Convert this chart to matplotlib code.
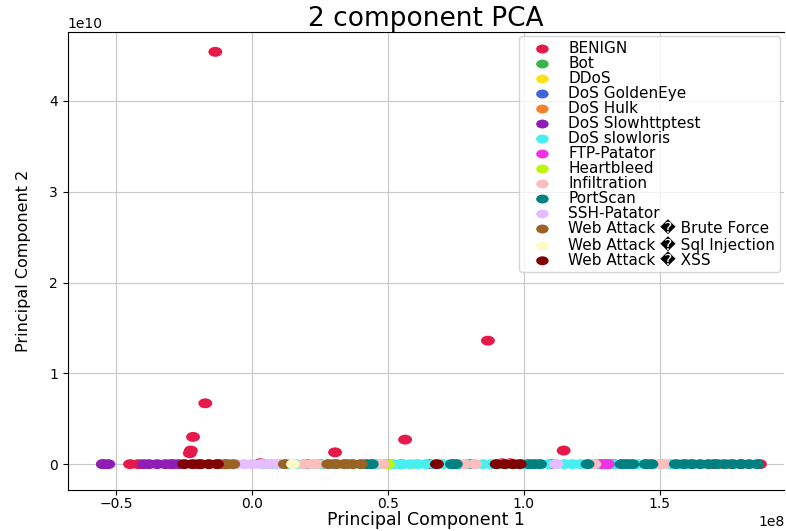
import numpy as np
import matplotlib
matplotlib.use("Agg")
import matplotlib.pyplot as plt
from matplotlib.path import Path
from matplotlib.transforms import Affine2D

# x values in units of 1e8, y values in units of 1e10
labels = ['BENIGN', 'Bot', 'DDoS', 'DoS GoldenEye', 'DoS Hulk',
          'DoS Slowhttptest', 'DoS slowloris', 'FTP-Patator', 'Heartbleed',
          'Infiltration', 'PortScan', 'SSH-Patator',
          'Web Attack \ufffd Brute Force', 'Web Attack \ufffd Sql Injection',
          'Web Attack \ufffd XSS']

colors = ['#e6194b', '#3cb44b', '#ffe119', '#4363d8', '#f58231',
          '#911eb4', '#46f0f0', '#f032e6', '#bcf60c', '#fabebe',
          '#008080', '#e6beff', '#9a6324', '#fffac8', '#800000']

benign_x = [-0.136, 0.868, -0.173, -0.218, -0.226, -0.23, 0.305, 0.563, 1.147,
            -0.55, -0.45, -0.42, -0.30, -0.20, -0.10, 0.03, 0.20, 0.35, 0.50,
            0.65, 0.80, 0.92, 0.95, 1.00, 1.10, 1.28, 1.32, 1.45, 1.60, 1.70,
            1.80, 1.87]
benign_y = [4.54, 1.36, 0.67, 0.30, 0.15, 0.12, 0.13, 0.27, 0.15,
            0, 0, 0, 0, 0, 0, 0.01, 0, 0, 0,
            0, 0, 0.01, 0.01, 0, 0, 0, 0, 0, 0, 0,
            0, 0]
bot_x = [0.20, 0.90]
ddos_x = [0.60, 0.70]
goldeneye_x = [0.25, 0.55, 0.30]
hulk_x = [0.45, 0.75, 1.30, 1.37, 1.62, 1.72, 1.76]
slowhttp_x = [-0.55, -0.53, -0.40, -0.38, -0.35, -0.32, -0.29, -0.27,
              1.27, 1.30, 1.33]
slowloris_x = [0.04, 0.07, 0.10, 0.13, 0.16, 0.19, 0.22, 0.25, 0.28, 0.31,
               0.34, 0.37, 0.40, 0.43, 0.46, 0.49, 0.52, 0.55, 0.58, 0.61,
               0.64, 0.67, 0.70, 0.73, 0.76, 0.79, 0.82, 0.85, 0.88, 0.91,
               0.94, 0.97, 1.00, 1.03, 1.06, 1.09, 1.12, 1.15, 1.18, 1.21,
               1.24, 1.27, 1.30, 1.33, 1.36, 1.39, 1.42, 1.45, 1.48, 1.51,
               1.54, 1.57, 1.60]
ftp_x = [1.29, 1.31]
heartbleed_x = [0.50]
infiltration_x = [0.19, 0.22, 0.24, 0.48, 0.78, 0.82, 1.05, 1.26, 1.50, 1.52]
portscan_x = [0.42, 0.44, 0.735, 0.75, 1.02, 1.04, 1.06, 1.235, 1.36, 1.38,
              1.40, 1.45, 1.47, 1.56, 1.59, 1.62, 1.65, 1.68, 1.71, 1.74,
              1.77, 1.80, 1.83, 1.86]
ssh_x = [-0.06, -0.03, 0.00, 0.03, 0.06, 0.09, 1.12]
brute_x = [-0.12, -0.09, -0.07, 0.12, 0.28, 0.31, 0.34, 0.37, 0.40]
sql_x = [0.15]
xss_x = [-0.25, -0.22, -0.19, -0.16, -0.13, 0.68, 0.90, 0.93, 0.96, 0.985]

band = [bot_x, ddos_x, goldeneye_x, hulk_x, slowhttp_x, slowloris_x, ftp_x,
        heartbleed_x, infiltration_x, portscan_x, ssh_x, brute_x, sql_x, xss_x]

# slightly flattened dot, like the reference
circ = Path.unit_circle()
oval = Path(Affine2D().scale(1.4, 1.0).transform(circ.vertices), circ.codes)

fig = plt.figure(figsize=(7.86, 5.31), dpi=100)
ax = fig.add_axes([0.086, 0.078, 0.912, 0.862])

xs_all = [benign_x] + band
ys_all = [benign_y] + [[0] * len(b) for b in band]

for lab, col, xs, ys in zip(labels, colors, xs_all, ys_all):
    ax.scatter(np.array(xs) * 1e8, np.array(ys) * 1e10, c=col, s=100,
               marker=oval, label=lab, edgecolors='none')

ax.set_xlim(-0.68e8, 1.96e8)
ax.set_ylim(-0.28e10, 4.76e10)
ax.set_xticks([-0.5e8, 0, 0.5e8, 1.0e8, 1.5e8])
ax.set_yticks([0, 1e10, 2e10, 3e10, 4e10])
ax.tick_params(labelsize=10)
ax.tick_params(axis='x', pad=1.5)
ax.grid(True, color='#c8c8c8')
ax.set_axisbelow(True)
ax.spines['right'].set_visible(False)

ax.set_title('2 component PCA', fontsize=19, pad=4)
ax.set_xlabel('Principal Component 1', fontsize=12.5, labelpad=0)
ax.set_ylabel('Principal Component 2', fontsize=11.5)
ax.yaxis.set_label_coords(-0.051, 0.5)

ax.legend(loc='upper right', fontsize=11, labelspacing=0.0,
          handlelength=2.4, handletextpad=0.5, borderpad=0.3,
          borderaxespad=0.3, markerscale=0.9)

fig.savefig('out.png', dpi=100)
